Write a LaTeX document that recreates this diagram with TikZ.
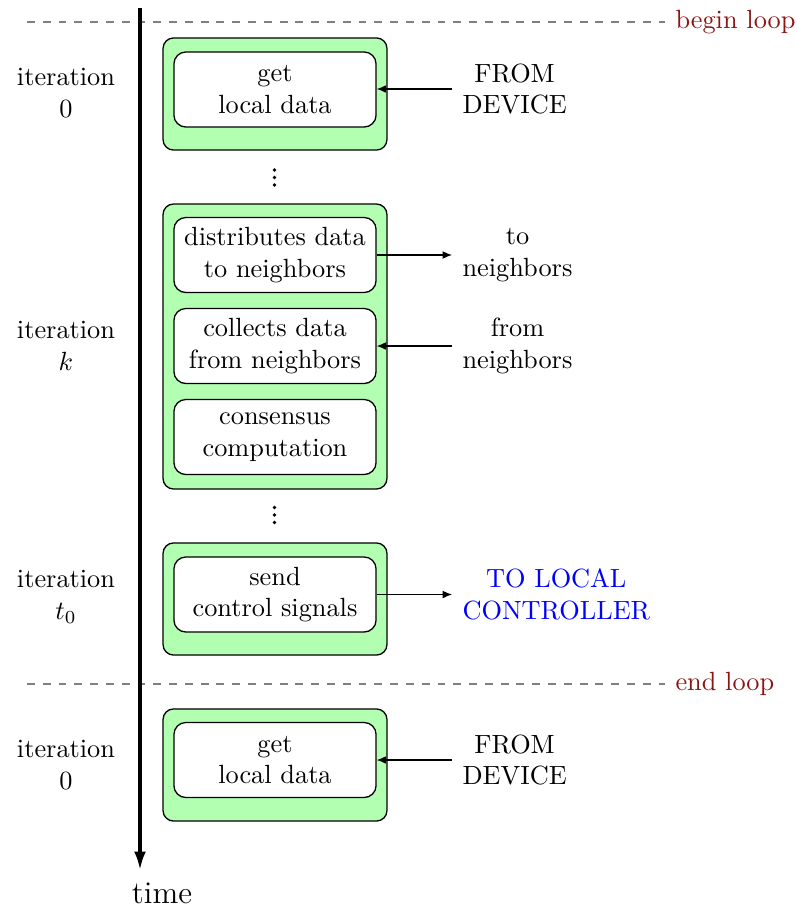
\documentclass[tikz,border=0pt]{standalone}
\usetikzlibrary{arrows.meta}
\definecolor{loopred}{RGB}{140,20,20}
\tikzset{
  outerbox/.style={draw, fill=green!30, rounded corners=4pt, minimum width=85.1pt, line width=0.5pt},
  innerbox/.style={draw, fill=white, rounded corners=4.5pt, minimum width=76.8pt, minimum height=28.5pt, align=center, inner sep=1pt, line width=0.5pt},
  sidelabel/.style={anchor=west, align=center, inner xsep=3.8pt},
  itlabel/.style={align=center},
  conn/.style={-{Latex[length=3.6pt,width=3pt]}, line width=0.4pt},
  loopline/.style={dashed, gray, line width=0.5pt},
  looplabel/.style={anchor=west, text=loopred, inner xsep=3.8pt},
  dotmark/.style={circle, fill=black, inner sep=0pt, minimum size=1.5pt},
}
\begin{document}
\begin{tikzpicture}[x=0.38pt, y=-0.38pt]
\useasboundingbox (0,0) rectangle (797,907);
% loop markers
\coordinate (bl0) at (27,22);
\node[looplabel] (bl) at (665,22) {begin loop};
\draw[loopline] (bl0) -- (bl.west);
\coordinate (el0) at (27,684);
\node[looplabel] (el) at (665,684) {end loop};
\draw[loopline] (el0) -- (el.west);
% time axis
\coordinate (ttop) at (140,8);
\coordinate (tbot) at (140,870);
\draw[line width=1.2pt, -{Latex[length=7pt,width=4.5pt]}] (ttop) -- (tbot);
\node[font=\large] (time) at (162,893) {time};
% iteration labels
\node[itlabel] (it0) at (66,93) {iteration\\0};
\node[itlabel] (itk) at (66,346) {iteration\\$k$};
\node[itlabel] (itt) at (66,597) {iteration\\$t_0$};
\node[itlabel] (it0b) at (66,765) {iteration\\0};
% outer boxes
\node[outerbox, minimum height=42.6pt] (o1) at (275,94) {};
\node[outerbox, minimum height=108.3pt] (o2) at (275,346.5) {};
\node[outerbox, minimum height=42.6pt] (o3) at (275,599) {};
\node[outerbox, minimum height=42.6pt] (o4) at (275,765) {};
% inner boxes
\node[innerbox] (a1) at (275,89.5) {get\\local data};
\node[innerbox] (b1) at (275,255) {distributes data\\to neighbors};
\node[innerbox] (b2) at (275,346) {collects data\\from neighbors};
\node[innerbox] (b3) at (275,437) {consensus\\computation};
\node[innerbox] (c1) at (275,594.5) {send\\control signals};
\node[innerbox] (d1) at (275,760) {get\\local data};
% dots
\node[dotmark] (d1a) at (274.5,170) {};
\node[dotmark] (d1b) at (274.5,177.5) {};
\node[dotmark] (d1c) at (274.5,185) {};
\node[dotmark] (d2a) at (274.5,507.5) {};
\node[dotmark] (d2b) at (274.5,515) {};
\node[dotmark] (d2c) at (274.5,522.5) {};
% side labels
\node[sidelabel] (s1) at (452,89) {FROM\\DEVICE};
\node[sidelabel] (s2) at (452,255) {to\\neighbors};
\node[sidelabel] (s3) at (452,346) {from\\neighbors};
\node[sidelabel, text=blue] (s4) at (452,594.5) {TO LOCAL\\CONTROLLER};
\node[sidelabel] (s5) at (452,760) {FROM\\DEVICE};
% connectors
\draw[conn] (s1.west) -- (a1.east |- s1.west);
\draw[conn] (b1.east) -- (s2.west);
\draw[conn] (s3.west) -- (b2.east);
\draw[conn] (c1.east) -- (s4.west);
\draw[conn] (s5.west) -- (d1.east |- s5.west);
\end{tikzpicture}
\end{document}
